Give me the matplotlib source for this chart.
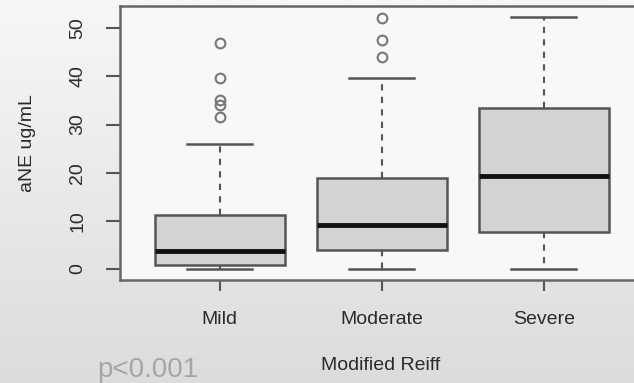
import matplotlib
matplotlib.use('Agg')
import matplotlib.pyplot as plt
from matplotlib.colors import LinearSegmentedColormap
import numpy as np

plt.rcParams['font.family'] = ['Liberation Sans', 'DejaVu Sans']

# Box statistics
groups = ['Mild', 'Moderate', 'Severe']
q1 = [0.8, 3.9, 7.7]
medians = [3.7, 9.1, 19.3]
q3 = [11.2, 18.9, 33.4]
whisker_low = [0.0, 0.0, 0.0]
whisker_high = [25.9, 39.7, 52.3]
outliers = [[31.5, 34.0, 35.0, 39.7, 47.0], [44.0, 47.5, 52.2], []]
yticks = [0, 10, 20, 30, 40, 50]

stats = []
for g, a, m, b, lo, hi, f in zip(groups, q1, medians, q3, whisker_low, whisker_high, outliers):
    stats.append(dict(label=g, q1=a, med=m, q3=b, whislo=lo, whishi=hi, fliers=f))

fig = plt.figure(figsize=(6.34, 3.83), dpi=100)

# grey screenshot-like background
bg = fig.add_axes([0, 0, 1, 1], zorder=-1)
grad = np.linspace(0, 1, 256).reshape(-1, 1)
cmap = LinearSegmentedColormap.from_list('bg', ['#f7f7f7', '#dcdcdc'])
bg.imshow(grad, cmap=cmap, aspect='auto', extent=[0, 1, 0, 1])
bg.axis('off')

# plot frame runs off the right edge of the screenshot
ax = fig.add_axes([0.189, 0.269, 0.811, 0.715])
ax.set_facecolor('#f8f8f8')

ax.bxp(stats, positions=[1, 2, 3], widths=0.8, capwidths=0.4, patch_artist=True,
       boxprops=dict(facecolor='#d3d3d3', edgecolor='#555555', linewidth=1.8),
       medianprops=dict(color='#111111', linewidth=3.5),
       whiskerprops=dict(color='#555555', linestyle=(0, (3, 3)), linewidth=1.5),
       capprops=dict(color='#555555', linewidth=1.8),
       flierprops=dict(marker='o', markerfacecolor='none', markeredgecolor='#777777',
                       markersize=7, markeredgewidth=1.5))

ax.set_xlim(0.383, 3.556)
ax.set_ylim(-2.3, 54.6)
ax.set_yticks(yticks)
ax.set_yticklabels([str(t) for t in yticks], rotation=90, va='center')
ax.tick_params(axis='y', length=10, width=1.5, pad=14, labelsize=14, colors='#555555')
ax.tick_params(axis='x', length=8, width=1.5, pad=14, labelsize=14, colors='#555555')
for lab in ax.get_xticklabels() + ax.get_yticklabels():
    lab.set_color('#2a2a2a')
ax.spines['right'].set_visible(False)
for s in ax.spines.values():
    s.set_color('#666666')
    s.set_linewidth(1.8)

fig.text(28 / 634, 1 - 143 / 383, 'aNE ug/mL', rotation=90, ha='center', va='center',
         fontsize=14, color='#2a2a2a')
fig.text(381 / 634, 1 - 365 / 383, 'Modified Reiff', ha='center', va='center',
         fontsize=14, color='#2a2a2a')
fig.text(148 / 634, 1 - 370 / 383, 'p<0.001', ha='center', va='center',
         fontsize=20, color='#a5a5a5')

fig.savefig('out.png', dpi=100)
plt.close(fig)
